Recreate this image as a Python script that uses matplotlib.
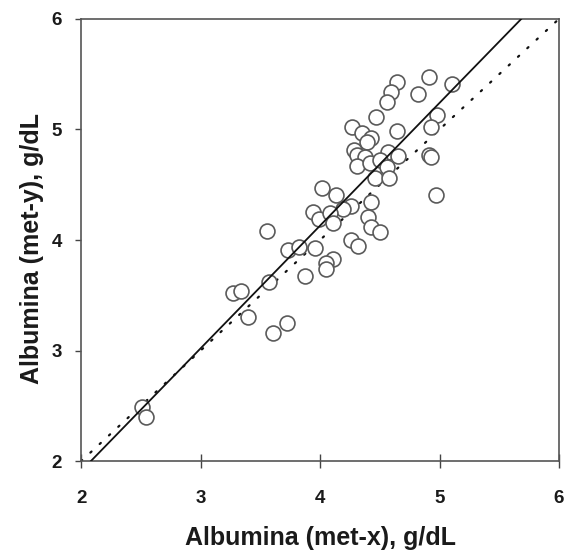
import matplotlib
matplotlib.use("Agg")
import matplotlib.pyplot as plt
import numpy as np

# Data
x_met = [4.91, 5.10, 4.82, 4.98, 4.93, 4.91, 4.93, 4.97,
         4.64, 4.59, 4.56, 4.47, 4.27, 4.35, 4.64, 4.43, 4.39, 4.28, 4.31, 4.38,
         4.57, 4.65, 4.31, 4.42, 4.50, 4.56, 4.46, 4.58, 4.02, 4.13, 4.26, 4.19,
         4.43, 3.94, 3.99, 4.08, 4.11, 4.40, 4.43, 4.50, 3.56, 4.26, 4.32, 3.73,
         3.82, 3.96, 4.11, 4.05, 4.05, 3.87, 3.57, 3.27, 3.34, 3.40, 3.72, 3.61,
         2.51, 2.54]
y_met = [5.47, 5.41, 5.32, 5.13, 5.02, 4.77, 4.75, 4.41,
         5.43, 5.34, 5.25, 5.11, 5.02, 4.97, 4.99, 4.92, 4.89, 4.81, 4.77, 4.75,
         4.80, 4.76, 4.67, 4.70, 4.72, 4.66, 4.56, 4.56, 4.47, 4.41, 4.31, 4.28,
         4.34, 4.25, 4.19, 4.24, 4.15, 4.21, 4.12, 4.07, 4.08, 4.00, 3.95, 3.91,
         3.94, 3.93, 3.83, 3.79, 3.74, 3.67, 3.62, 3.52, 3.54, 3.30, 3.25, 3.16,
         2.49, 2.40]

reg_slope = 1.11
reg_intercept = -0.31
axis_min, axis_max = 2, 6
ticks = [2, 3, 4, 5, 6]
xlabel = "Albumina (met-x), g/dL"
ylabel = "Albumina (met-y), g/dL"

plt.rcParams['font.family'] = ['Liberation Sans', 'DejaVu Sans']

fig = plt.figure(figsize=(5.67, 5.53), dpi=100)
ax = fig.add_axes([0.143, 0.166, 0.843, 0.800])

ax.scatter(x_met, y_met, s=115, facecolors='white', edgecolors='#5a5a5a',
           linewidths=1.2, zorder=3)

# identity line (dotted)
ax.plot([axis_min, axis_max], [axis_min, axis_max], color='#111111', lw=1.6,
        linestyle=(0, (0.7, 5)), dash_capstyle='round', zorder=2)

# regression line (solid)
x_lo = (axis_min - reg_intercept) / reg_slope
x_hi = (axis_max - reg_intercept) / reg_slope
xr = np.array([x_lo, x_hi])
ax.plot(xr, reg_slope * xr + reg_intercept, color='#111111', lw=1.3, zorder=4)

ax.set_xlim(axis_min, axis_max)
ax.set_ylim(axis_min, axis_max)
ax.set_xticks(ticks)
ax.set_yticks(ticks)
ax.tick_params(axis='x', direction='inout', length=9.5, width=1, color='#444444',
               labelsize=13.5, pad=16, labelcolor='#1a1a1a')
ax.tick_params(axis='y', direction='out', length=4, width=1, color='#444444',
               labelsize=13.5, pad=10, labelcolor='#1a1a1a')
for lab in ax.get_xticklabels() + ax.get_yticklabels():
    lab.set_fontweight('bold')
for sp in ax.spines.values():
    sp.set_color('#555555')
    sp.set_linewidth(1.2)

fig.text(0.5644, 1 - 545 / 553, xlabel, fontsize=18, fontweight='bold',
         color='#1a1a1a', ha='center', va='baseline')
fig.text(0.056, 1 - 248 / 553, ylabel, fontsize=18, fontweight='bold',
         color='#1a1a1a', ha='center', va='center', rotation=90)

fig.savefig("out.png", dpi=100)
